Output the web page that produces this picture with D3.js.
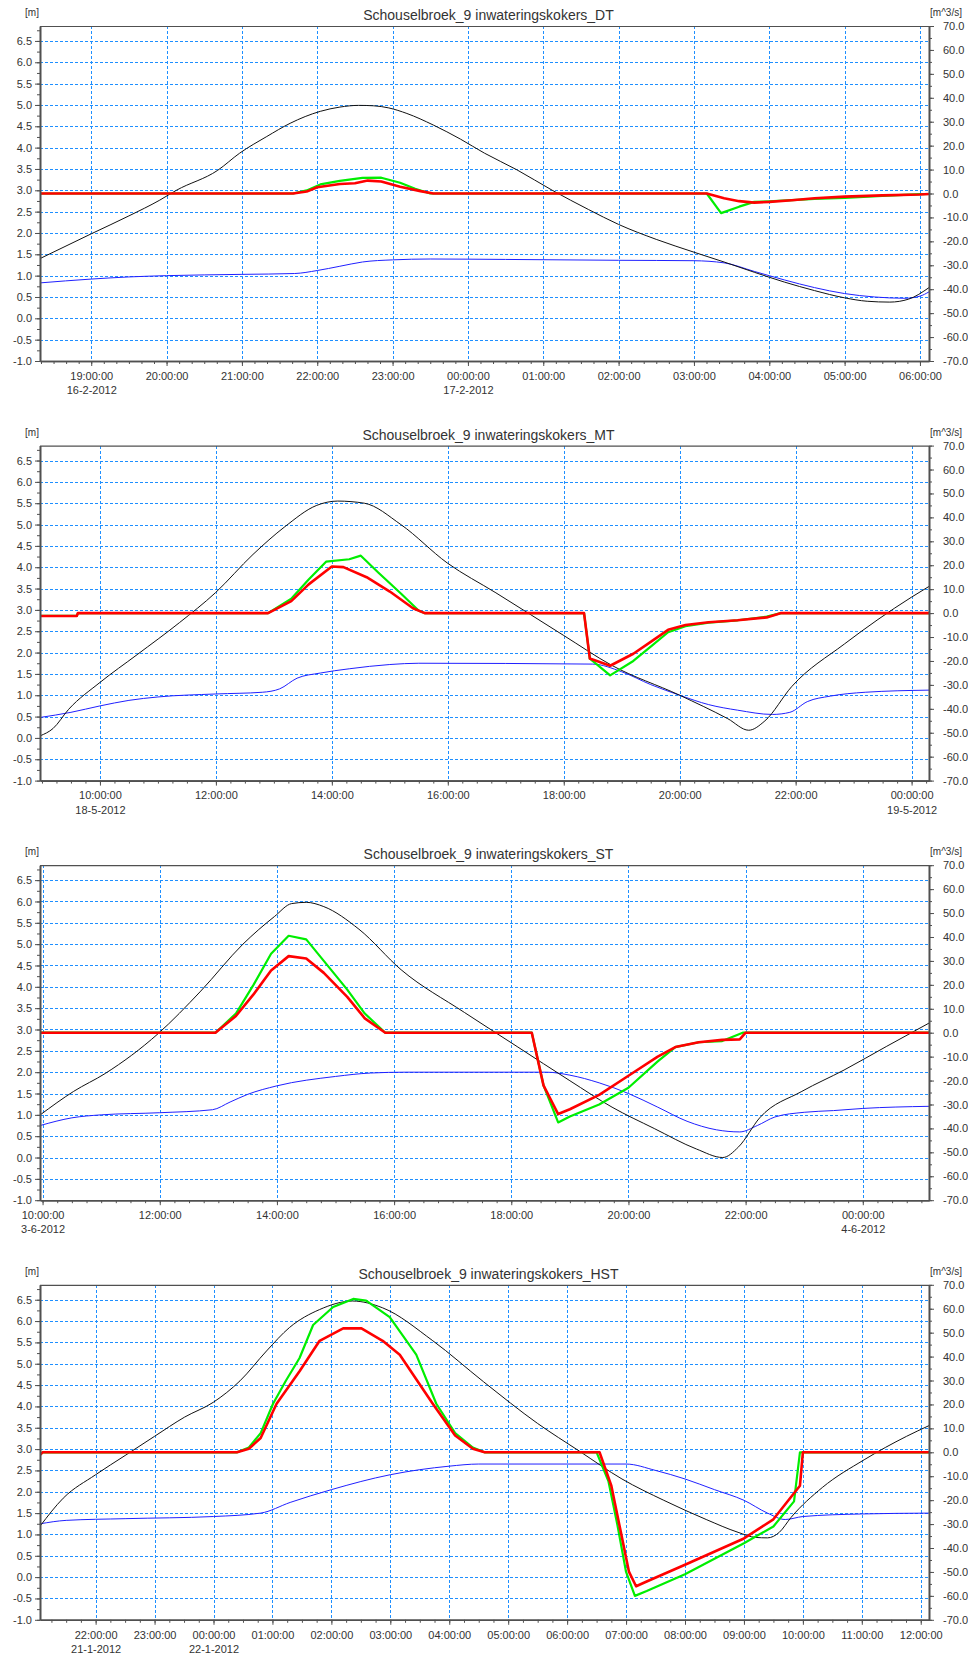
<!DOCTYPE html>
<html><head><meta charset="utf-8">
<script src="https://cdn.jsdelivr.net/npm/d3@7"></script>
<style>
body{margin:0;background:#fff}
svg text{font-family:"Liberation Sans",Arial,sans-serif;fill:#333}
</style>
</head><body><svg id="c" width="968" height="1655"></svg>
<script>
// ---------------- DATA ----------------
const titles = ["Schouselbroek_9 inwateringskokers_DT","Schouselbroek_9 inwateringskokers_MT","Schouselbroek_9 inwateringskokers_ST","Schouselbroek_9 inwateringskokers_HST"];
const baseDates = [[2012,1,16],[2012,4,18],[2012,5,3],[2012,0,21]]; // y, month(0-based), day
const timeDomains = [[18.32,30.12],[8.966,24.30],[9.956,25.13],[21.056,36.14]]; // hours after base midnight
const majorStepHours = [1,2,2,1];
const minorStepMinutes = [10,15,15,15];
const leftTickLabels = ["-1.0","-0.5","0.0","0.5","1.0","1.5","2.0","2.5","3.0","3.5","4.0","4.5","5.0","5.5","6.0","6.5"];
const rightTickLabels = ["-70.0","-60.0","-50.0","-40.0","-30.0","-20.0","-10.0","0.0","10.0","20.0","30.0","40.0","50.0","60.0","70.0"];
const leftUnit = "[m]";
const rightUnit = "[m^3/s]";

// Panel DT  [hours, value]
const dtOuter = [[18.32,1.40],[19.0,1.98],[19.5,2.40],[19.91,2.77],[20.13,3.0],[20.68,3.47],[20.97,3.87],[21.33,4.26],[21.64,4.57],[22.04,4.85],[22.3,4.95],[22.55,4.99],[22.75,4.98],[22.95,4.93],[23.19,4.80],[23.54,4.53],[23.9,4.2],[24.22,3.87],[24.65,3.48],[25.12,3.0],[25.6,2.55],[26.0,2.2],[26.5,1.85],[27.0,1.55],[27.4,1.32],[27.8,1.08],[28.2,0.85],[28.6,0.65],[29.0,0.48],[29.3,0.4],[29.6,0.38],[29.85,0.45],[30.12,0.72]];
const dtInner = [[18.32,0.83],[19.0,0.92],[19.5,0.97],[20.0,1.0],[21.0,1.03],[21.7,1.05],[22.0,1.12],[22.3,1.22],[22.6,1.32],[23.0,1.37],[23.5,1.39],[24.5,1.38],[26.0,1.36],[27.0,1.35],[27.4,1.3],[27.8,1.1],[28.2,0.9],[28.6,0.72],[29.0,0.58],[29.4,0.5],[29.8,0.47],[30.0,0.52],[30.12,0.62]];
const dtQ1 = [[18.32,0],[21.68,0],[21.86,1.3],[22.04,3.8],[22.3,5.3],[22.6,6.5],[22.85,6.6],[23.1,4.5],[23.3,2.0],[23.5,0],[27.17,0],[27.36,-8.2],[27.6,-5.5],[27.8,-3.5],[28.0,-3.3],[28.3,-2.8],[28.6,-2.3],[29.0,-1.8],[29.5,-1.0],[30.0,-0.3],[30.12,-0.2]];
const dtQ2 = [[18.32,0],[21.68,0],[21.86,0.8],[22.0,2.6],[22.3,4.0],[22.5,4.3],[22.67,5.4],[22.85,5.0],[23.1,2.8],[23.37,1.0],[23.54,0],[27.17,0],[27.4,-2],[27.6,-3.2],[27.8,-3.8],[28.0,-3.5],[28.3,-2.8],[28.6,-2.0],[29.0,-1.3],[29.5,-0.8],[30.0,-0.4],[30.12,-0.2]];

// Panel MT
const mtOuter = [[8.97,0.05],[9.19,0.22],[9.46,0.67],[10.0,1.3],[10.64,1.95],[11.37,2.7],[11.99,3.4],[12.64,4.3],[13.19,4.95],[13.74,5.45],[14.1,5.55],[14.56,5.5],[15.19,5.0],[15.99,4.1],[16.83,3.4],[18.0,2.4],[18.83,1.7],[20.0,1.0],[20.83,0.45],[21.19,0.18],[21.47,0.4],[21.93,1.2],[22.84,2.2],[24.0,3.3],[24.3,3.55]];
const mtInner = [[8.97,0.48],[9.5,0.6],[10.0,0.75],[10.5,0.88],[11.0,0.96],[12.0,1.03],[12.8,1.07],[13.1,1.15],[13.4,1.4],[13.8,1.52],[14.3,1.62],[15.0,1.72],[15.5,1.75],[18.5,1.73],[19.0,1.55],[19.5,1.25],[20.0,1.0],[20.5,0.78],[21.0,0.65],[21.6,0.55],[21.9,0.6],[22.2,0.85],[22.6,0.98],[23.2,1.07],[24.3,1.12]];
const mtQ1 = [[8.97,-1.2],[9.6,-1.2],[9.62,0],[12.9,0],[13.3,6],[13.6,14],[13.9,21.5],[14.3,22.5],[14.5,24],[14.8,17],[15.2,8],[15.5,1],[15.6,0],[18.35,0],[18.45,-19],[18.8,-26],[19.2,-20],[19.5,-14],[19.8,-8],[20.1,-5.5],[20.5,-4],[21.0,-3],[21.5,-1.5],[21.75,0],[24.3,0]];
const mtQ2 = [[8.97,-1.2],[9.6,-1.2],[9.62,0],[12.9,0],[13.3,5],[13.6,12],[14.0,19.5],[14.2,19.2],[14.6,15],[15.0,9],[15.4,2],[15.6,0],[18.35,0],[18.45,-19],[18.8,-22],[19.2,-17],[19.5,-12],[19.8,-7],[20.1,-5],[20.5,-3.8],[21.0,-3],[21.5,-1.8],[21.75,0],[24.3,0]];

// Panel ST
const stOuter = [[9.96,1.0],[10.53,1.55],[11.07,1.97],[11.97,2.9],[12.7,3.9],[13.42,5.0],[13.96,5.65],[14.25,5.95],[14.5,5.98],[14.8,5.88],[15.4,5.35],[16.12,4.4],[17.2,3.4],[18.1,2.6],[19.0,1.8],[19.72,1.18],[20.44,0.68],[21.16,0.2],[21.61,0.0],[21.88,0.25],[22.24,0.93],[22.96,1.55],[23.68,2.05],[24.4,2.6],[25.13,3.15]];
const stInner = [[9.96,0.75],[10.5,0.93],[11.0,1.0],[12.0,1.05],[12.9,1.12],[13.2,1.3],[13.5,1.48],[14.0,1.68],[15.0,1.9],[15.6,1.98],[16.2,2.0],[18.6,2.0],[19.0,1.93],[19.5,1.75],[20.0,1.5],[20.5,1.18],[21.0,0.85],[21.5,0.65],[21.9,0.6],[22.2,0.75],[22.5,0.95],[23.0,1.06],[23.5,1.1],[24.0,1.15],[25.13,1.2]];
const stQ1 = [[9.96,0],[12.95,0],[13.3,8],[13.6,20],[13.9,33],[14.2,40.5],[14.5,39],[14.8,30],[15.2,18],[15.5,8],[15.85,0],[18.35,0],[18.55,-22],[18.8,-37.5],[19.0,-35],[19.5,-30],[20.0,-23],[20.5,-12],[20.8,-6],[21.2,-4],[21.6,-3.5],[21.95,0],[25.13,0]];
const stQ2 = [[9.96,0],[12.95,0],[13.3,7],[13.6,16],[13.9,26],[14.2,32],[14.5,31],[14.8,25],[15.2,15],[15.5,6],[15.85,0],[18.35,0],[18.55,-22],[18.8,-34],[19.0,-32],[19.5,-26],[20.0,-18],[20.5,-10],[20.8,-6],[21.2,-4],[21.6,-3],[21.9,-2.8],[22.0,0],[25.13,0]];

// Panel HST
const hstOuter = [[21.06,1.2],[21.45,1.85],[22.0,2.4],[22.5,2.85],[23.0,3.3],[23.51,3.75],[24.0,4.1],[24.45,4.6],[24.9,5.3],[25.29,5.85],[25.8,6.27],[26.36,6.47],[26.87,6.31],[27.72,5.54],[28.58,4.58],[29.5,3.6],[30.21,2.95],[30.93,2.3],[31.64,1.8],[32.36,1.35],[32.9,1.05],[33.2,0.93],[33.4,0.92],[33.6,1.05],[33.8,1.4],[34.33,2.1],[35.04,2.75],[35.76,3.3],[36.14,3.55]];
const hstInner = [[21.06,1.25],[21.5,1.33],[22.5,1.37],[24.0,1.42],[24.8,1.5],[25.3,1.75],[26.0,2.05],[27.0,2.4],[28.0,2.6],[28.5,2.65],[31.0,2.65],[31.5,2.5],[32.0,2.3],[32.5,2.05],[33.0,1.8],[33.4,1.5],[33.7,1.35],[34.0,1.42],[35.0,1.48],[36.14,1.5]];
const hstQ1 = [[21.06,-1],[21.1,0],[24.4,0],[24.6,2],[24.8,8],[25.01,20.3],[25.23,30],[25.46,39.4],[25.69,53.2],[26.03,60.7],[26.37,64.1],[26.59,63.4],[26.99,56.5],[27.44,40.8],[27.78,20.3],[28.1,8],[28.4,2],[28.6,0],[30.5,0],[30.7,-12],[30.85,-30],[31.0,-50],[31.15,-60],[31.35,-58],[32.0,-51],[33.0,-38],[33.5,-31],[33.85,-20.5],[33.95,0],[36.14,0]];
const hstQ2 = [[21.06,-1],[21.1,0],[24.4,0],[24.6,1.5],[24.8,6],[25.07,20.3],[25.46,33.9],[25.8,46.6],[26.2,51.8],[26.51,51.8],[26.87,46.6],[27.16,40.8],[27.72,20.3],[28.1,7],[28.4,1.5],[28.6,0],[30.55,0],[30.75,-14],[30.9,-32],[31.05,-50],[31.17,-56],[31.35,-54],[32.0,-47],[33.0,-36],[33.5,-28],[33.95,-14],[34.0,0],[36.14,0]];

const outerSeries = [dtOuter, mtOuter, stOuter, hstOuter];
const innerSeries = [dtInner, mtInner, stInner, hstInner];
const q1Series = [dtQ1, mtQ1, stQ1, hstQ1];
const q2Series = [dtQ2, mtQ2, stQ2, hstQ2];

// ---------------- LAYOUT ----------------
const L = 40, R = 929, PH = 335, firstTop = 26, gapY = 419.6;
const leftDomain = [-1, 6.85], rightDomain = [-70, 70];
const gridColor = "#1E8FFF", axisColor = "#505050";

const svg = d3.select("#c");
const fmtTime = d3.timeFormat("%H:%M:%S");
const fmtDate = d3.timeFormat("%-d-%-m-%Y");

titles.forEach((title, i) => {
  const top = firstTop + i * gapY, bot = top + PH;
  const b = baseDates[i];
  const toDate = h => new Date(new Date(b[0], b[1], b[2]).getTime() + h * 3600000);
  const x = d3.scaleTime().domain(timeDomains[i].map(toDate)).range([L, R]);
  const yL = d3.scaleLinear().domain(leftDomain).range([bot, top]);
  const yR = d3.scaleLinear().domain(rightDomain).range([bot, top]);
  const g = svg.append("g");

  const majors = d3.timeHour.every(majorStepHours[i]).range(x.domain()[0], x.domain()[1]);
  const minors = d3.timeMinute.every(minorStepMinutes[i]).range(x.domain()[0], x.domain()[1]);
  const leftMajor = leftTickLabels.map(Number);
  const leftMinor = d3.range(leftDomain[0], leftDomain[1], 0.25);
  const rightMajor = rightTickLabels.map(Number);
  const rightMinor = d3.range(-70, 70.1, 5);

  // grid
  const grid = g.append("g").attr("stroke", gridColor).attr("stroke-width", 1).attr("stroke-dasharray", "3,2").attr("shape-rendering","crispEdges");
  grid.selectAll("line.h").data(leftMajor.filter(v => v > -1)).join("line")
    .attr("x1", L).attr("x2", R).attr("y1", d => Math.round(yL(d)) + 0.5).attr("y2", d => Math.round(yL(d)) + 0.5);
  grid.selectAll("line.v").data(majors).join("line")
    .attr("y1", top).attr("y2", bot).attr("x1", d => Math.round(x(d)) + 0.5).attr("x2", d => Math.round(x(d)) + 0.5);

  // series
  const lineL = d3.line().curve(d3.curveMonotoneX).x(d => x(toDate(d[0]))).y(d => yL(d[1]));
  const lineR = d3.line().x(d => x(toDate(d[0]))).y(d => yR(d[1]));
  const clipId = "clip" + i;
  g.append("clipPath").attr("id", clipId).append("rect").attr("x", L).attr("y", top).attr("width", R - L).attr("height", PH);
  const s = g.append("g").attr("clip-path", `url(#${clipId})`).attr("fill", "none");
  s.append("path").attr("d", lineL(innerSeries[i])).attr("stroke", "#2020ff").attr("stroke-width", 1);
  s.append("path").attr("d", lineL(outerSeries[i])).attr("stroke", "#111").attr("stroke-width", 1);
  s.append("path").attr("d", lineR(q1Series[i])).attr("stroke", "#00ee00").attr("stroke-width", 2.2).attr("stroke-linejoin","round");
  s.append("path").attr("d", lineR(q2Series[i])).attr("stroke", "#ff0000").attr("stroke-width", 2.6).attr("stroke-linejoin","round");

  // frame top
  g.append("line").attr("x1", L).attr("x2", R).attr("y1", top + 0.5).attr("y2", top + 0.5).attr("stroke", axisColor).attr("stroke-width", 1.2);

  // axes
  const styleAxis = sel => { sel.select(".domain").attr("stroke", axisColor).attr("stroke-width", 1.6); sel.selectAll(".tick line").attr("stroke", axisColor); sel.selectAll("text").attr("fill", "#333").style("font-family", "'Liberation Sans',Arial,sans-serif"); };

  g.append("g").attr("transform", `translate(${L},0)`)
    .call(d3.axisLeft(yL).tickValues(leftMinor).tickSize(3).tickFormat("").tickSizeOuter(0)).call(styleAxis);
  g.append("g").attr("transform", `translate(${L},0)`)
    .call(d3.axisLeft(yL).tickValues(leftMajor).tickSize(5).tickPadding(3).tickFormat((d, k) => leftTickLabels[k]).tickSizeOuter(0))
    .call(styleAxis).attr("font-size", 11);

  g.append("g").attr("transform", `translate(${R},0)`)
    .call(d3.axisRight(yR).tickValues(rightMinor).tickSize(3).tickFormat("").tickSizeOuter(0)).call(styleAxis);
  g.append("g").attr("transform", `translate(${R},0)`)
    .call(d3.axisRight(yR).tickValues(rightMajor).tickSize(5).tickPadding(9).tickFormat((d, k) => rightTickLabels[k]).tickSizeOuter(0))
    .call(styleAxis).attr("font-size", 11);

  g.append("g").attr("transform", `translate(0,${bot})`)
    .call(d3.axisBottom(x).tickValues(minors).tickSize(3).tickFormat("").tickSizeOuter(0)).call(styleAxis);
  const xa = g.append("g").attr("transform", `translate(0,${bot})`)
    .call(d3.axisBottom(x).tickValues(majors).tickSize(5).tickPadding(6).tickFormat(fmtTime).tickSizeOuter(0))
    .call(styleAxis).attr("font-size", 11);
  xa.selectAll(".tick text").each(function (d, k) {
    if (k === 0 || (d.getHours() === 0 && d.getMinutes() === 0)) {
      d3.select(this).append("tspan").attr("x", 0).attr("dy", "1.3em").text(fmtDate(d));
    }
  });

  // titles / units
  g.append("text").attr("x", (L + R) / 2 + 4).attr("y", top - 6).attr("text-anchor", "middle").attr("font-size", 14).text(title);
  g.append("text").attr("x", 32).attr("y", top - 10).attr("text-anchor", "middle").attr("font-size", 10).text(leftUnit);
  g.append("text").attr("x", 946).attr("y", top - 10).attr("text-anchor", "middle").attr("font-size", 10).text(rightUnit);
});
</script>
</body></html>
